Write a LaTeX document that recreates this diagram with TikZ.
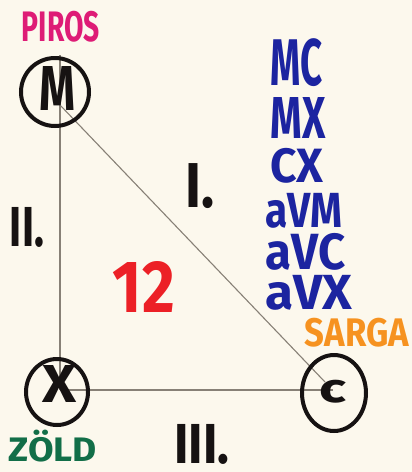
\documentclass[tikz,border=0pt]{standalone}
\usepackage{fontspec}
\setmainfont{Fira Sans}
\usepackage{graphicx}
\definecolor{paper}{RGB}{252,248,237}
\definecolor{pencil}{RGB}{135,128,118}
\definecolor{ink}{RGB}{22,18,18}
\definecolor{piros}{RGB}{222,28,118}
\definecolor{kek}{RGB}{28,36,160}
\definecolor{voros}{RGB}{236,32,38}
\definecolor{sarga}{RGB}{246,146,32}
\definecolor{zold}{RGB}{18,110,72}
\newcommand{\fitto}[3]{\resizebox*{#1pt}{#2pt}{\bfseries #3}}
\begin{document}
\begin{tikzpicture}[x=1pt,y=-1pt,
  lbl/.style={inner sep=0pt,outer sep=0pt,anchor=center},
  ring/.style={draw=ink,line width=4pt},
  edge/.style={draw=pencil,line width=1.1pt}]
\fill[paper] (0,0) rectangle (412,472);
\useasboundingbox (0,0) rectangle (412,472);
% vertex centres
\coordinate (Mtop) at (60,55);
\coordinate (Mlow) at (60,105);
\coordinate (Xc) at (60,390);
\coordinate (Cc) at (333,390);
\coordinate (Cd) at (325,382);
% edges
\draw[edge] (Mtop) -- (Xc);
\draw[edge] (Xc) -- (Cc);
\draw[edge] (Mlow) -- (Cd);
% circles
\draw[ring] (55,92) ellipse [x radius=34, y radius=34];
\draw[ring] (57,392) ellipse [x radius=31, y radius=33];
\draw[ring] (334,393) ellipse [x radius=32, y radius=38];
% vertex letters
\node[lbl,text=ink] (M) at (58,88) {\fitto{36}{44}{M}};
\node[lbl,text=ink] (X) at (60,384) {\fitto{34}{37}{X}};
\node[lbl,text=ink] (C) at (333,392) {\fitto{27}{23}{c}};
% colour names
\node[lbl,text=piros] (piros) at (61,27) {\fitto{78}{31}{PIROS}};
\node[lbl,text=zold] (zold) at (53,446) {\fitto{88}{32}{ZÖLD}};
\node[lbl,text=sarga] (sarga) at (357,333) {\fitto{104}{29}{SARGA}};
% edge numbers
\node[lbl,text=ink] (e1) at (200,186) {\fitto{29}{45}{I.}};
\node[lbl,text=ink] (e2) at (27,227) {\fitto{34}{40}{II.}};
\node[lbl,text=ink] (e3) at (202,444) {\fitto{55}{40}{III.}};
% count
\node[lbl,text=voros] (n12) at (144,287) {\fitto{62}{51}{12}};
% list
\node[lbl,text=kek] (l1) at (297,63) {\fitto{52}{48}{MC}};
\node[lbl,text=kek] (l2) at (298,118) {\fitto{55}{41}{MX}};
\node[lbl,text=kek] (l3) at (297,166) {\fitto{53}{35}{CX}};
\node[lbl,text=kek] (l4) at (304,211) {\fitto{77}{35}{aVM}};
\node[lbl,text=kek] (l5) at (306,252) {\fitto{80}{37}{aVC}};
\node[lbl,text=kek] (l6) at (309,293) {\fitto{87}{35}{aVX}};
\end{tikzpicture}
\end{document}
